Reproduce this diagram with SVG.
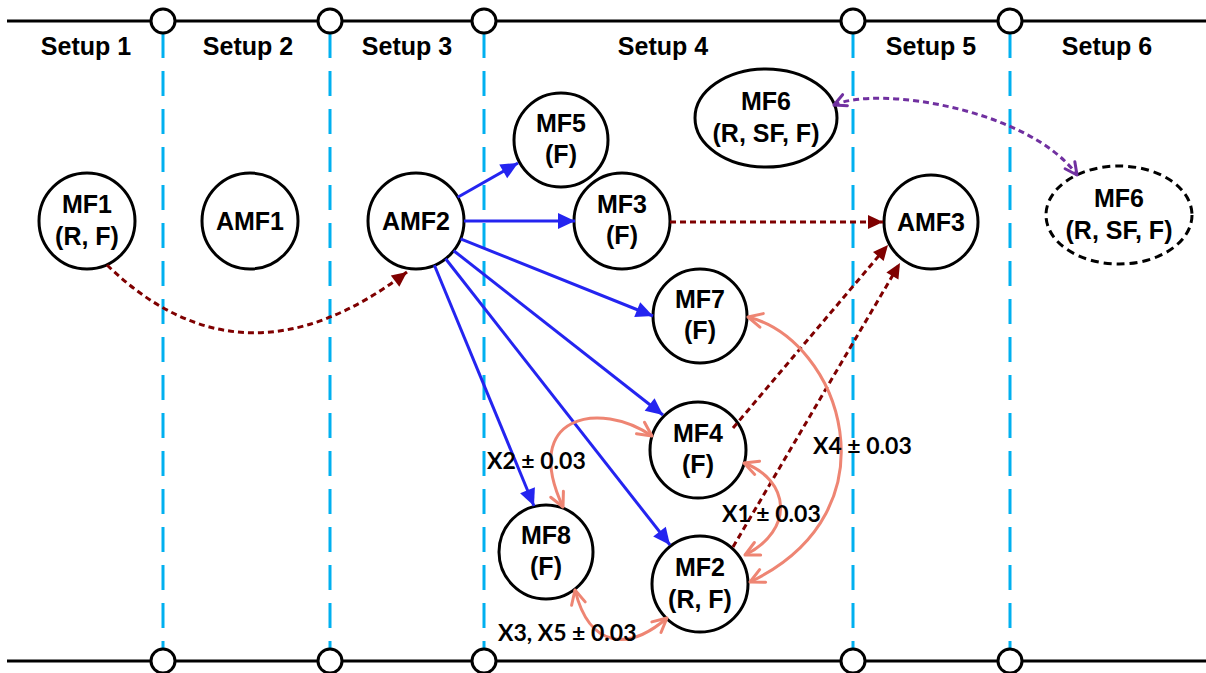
<svg xmlns="http://www.w3.org/2000/svg" width="1206" height="673" viewBox="0 0 1206 673">
<style>
.hdr{font-family:"Liberation Sans",Arial,sans-serif;font-weight:bold;font-size:25px;fill:#000;text-anchor:middle}
.nt{font-family:"Liberation Sans",Arial,sans-serif;font-weight:bold;font-size:25px;fill:#000;text-anchor:middle}
.lbl{font-family:Lato,"Liberation Sans",sans-serif;font-weight:bold;font-size:23px;fill:#000}
.node{fill:#fff;stroke:#000;stroke-width:3}
.sep{stroke:#00B0F0;stroke-width:3;stroke-dasharray:25 13}
.rail{stroke:#000;stroke-width:3}
.knot{fill:#fff;stroke:#000;stroke-width:3}
.blue{stroke:#2424F0;stroke-width:3;fill:none;marker-end:url(#mb)}
.red{stroke:#7F0000;stroke-width:3;fill:none;stroke-dasharray:6 4;marker-end:url(#mr)}
.sal{stroke:#EE8573;stroke-width:3;fill:none;marker-start:url(#ms);marker-end:url(#ms)}
.pur{stroke:#7030A0;stroke-width:3;fill:none;stroke-dasharray:6 4;marker-start:url(#mp);marker-end:url(#mp)}
</style>
<defs>
<marker id="mb" markerUnits="userSpaceOnUse" markerWidth="20" markerHeight="20" refX="17" refY="8" orient="auto" overflow="visible"><path d="M0,0 L17,8 L0,16 z" fill="#2424F0"/></marker>
<marker id="mr" markerUnits="userSpaceOnUse" markerWidth="20" markerHeight="20" refX="15" refY="7" orient="auto" overflow="visible"><path d="M0,0 L15,7 L0,14 z" fill="#7F0000"/></marker>
<marker id="ms" markerUnits="userSpaceOnUse" markerWidth="20" markerHeight="20" refX="15" refY="8" orient="auto-start-reverse" overflow="visible"><path d="M1,1 L15,8 L1,15" fill="none" stroke="#EE8573" stroke-width="3" stroke-linecap="round" stroke-linejoin="round"/></marker>
<marker id="mp" markerUnits="userSpaceOnUse" markerWidth="20" markerHeight="20" refX="13" refY="7" orient="auto-start-reverse" overflow="visible"><path d="M1,1 L13,7 L1,13" fill="none" stroke="#7030A0" stroke-width="3" stroke-linecap="round" stroke-linejoin="round"/></marker>
</defs>
<rect width="1206" height="673" fill="#fff"/>
<g id="frame">
<line class="sep" x1="163" y1="33" x2="163" y2="649"/>
<line class="sep" x1="330" y1="33" x2="330" y2="649"/>
<line class="sep" x1="484" y1="33" x2="484" y2="649"/>
<line class="sep" x1="853" y1="33" x2="853" y2="649"/>
<line class="sep" x1="1010" y1="33" x2="1010" y2="649"/>
<line class="rail" x1="7" y1="21" x2="1206" y2="21"/>
<line class="rail" x1="7" y1="661" x2="1206" y2="661"/>
<circle class="knot" cx="163" cy="21" r="12"/>
<circle class="knot" cx="330" cy="21" r="12"/>
<circle class="knot" cx="484" cy="21" r="12"/>
<circle class="knot" cx="853" cy="21" r="12"/>
<circle class="knot" cx="1010" cy="21" r="12"/>
<circle class="knot" cx="163" cy="661" r="12"/>
<circle class="knot" cx="330" cy="661" r="12"/>
<circle class="knot" cx="484" cy="661" r="12"/>
<circle class="knot" cx="853" cy="661" r="12"/>
<circle class="knot" cx="1010" cy="661" r="12"/>
<text class="hdr" x="86" y="55">Setup 1</text>
<text class="hdr" x="248" y="55">Setup 2</text>
<text class="hdr" x="407" y="55">Setup 3</text>
<text class="hdr" x="663" y="55">Setup 4</text>
<text class="hdr" x="931" y="55">Setup 5</text>
<text class="hdr" x="1107" y="55">Setup 6</text>
</g>
<g id="MF1"><circle class="node" cx="87" cy="221" r="48"/><text class="nt" x="87" y="213">MF1</text><text class="nt" x="87" y="245">(R, F)</text></g>
<g id="AMF1"><circle class="node" cx="250" cy="221" r="48"/><text class="nt" x="250" y="230">AMF1</text></g>
<g id="AMF2"><circle class="node" cx="416" cy="221" r="48"/><text class="nt" x="416" y="230">AMF2</text></g>
<g id="MF5"><circle class="node" cx="561" cy="140" r="47"/><text class="nt" x="561" y="132">MF5</text><text class="nt" x="561" y="163">(F)</text></g>
<g id="MF3"><circle class="node" cx="622" cy="221" r="48"/><text class="nt" x="622" y="213">MF3</text><text class="nt" x="622" y="244">(F)</text></g>
<g id="MF6a"><ellipse class="node" cx="766" cy="118" rx="71" ry="49"/><text class="nt" x="766" y="110">MF6</text><text class="nt" x="766" y="142">(R, SF, F)</text></g>
<g id="AMF3"><circle class="node" cx="931" cy="222" r="47"/><text class="nt" x="931" y="231">AMF3</text></g>
<g id="MF6b"><ellipse class="node" cx="1119" cy="215" rx="73" ry="49" stroke-dasharray="8 5"/><text class="nt" x="1119" y="207">MF6</text><text class="nt" x="1119" y="239">(R, SF, F)</text></g>
<g id="MF7"><circle class="node" cx="700" cy="316" r="47"/><text class="nt" x="700" y="308">MF7</text><text class="nt" x="700" y="339">(F)</text></g>
<g id="MF4"><circle class="node" cx="698" cy="450" r="48"/><text class="nt" x="698" y="442">MF4</text><text class="nt" x="698" y="473">(F)</text></g>
<g id="MF8"><circle class="node" cx="546" cy="552" r="47"/><text class="nt" x="546" y="544">MF8</text><text class="nt" x="546" y="575">(F)</text></g>
<g id="MF2"><circle class="node" cx="700" cy="584" r="48"/><text class="nt" x="700" y="576">MF2</text><text class="nt" x="700" y="608">(R, F)</text></g>
<g id="connectors">
<line class="blue" x1="457.7" y1="197.3" x2="518" y2="163"/>
<line class="blue" x1="464" y1="221" x2="575" y2="221"/>
<line class="blue" x1="460.6" y1="238.9" x2="653" y2="316"/>
<line class="blue" x1="453.7" y1="250.7" x2="663" y2="415"/>
<line class="blue" x1="445.6" y1="258.8" x2="670" y2="545"/>
<line class="blue" x1="434.4" y1="265.3" x2="534" y2="506"/>
<path class="red" d="M107,265 Q243,397 407,272"/>
<line class="red" x1="670" y1="222" x2="883" y2="222"/>
<line class="red" x1="733" y1="428" x2="888" y2="245"/>
<line class="red" x1="733" y1="547" x2="900" y2="263"/>
<path class="pur" d="M834,105 C880,85 1030,110 1077,175"/>
<path class="sal" d="M652,436 C600,400 520,415 563,507"/>
<path class="sal" d="M744,463 C790,480 795,530 745,555"/>
<path class="sal" d="M748,317 C840,340 900,510 750,582"/>
<path class="sal" d="M575,590 C590,650 630,650 667,618"/>
<text class="lbl" x="487" y="469">X2 ± 0.03</text>
<text class="lbl" x="722" y="522">X1 ± 0.03</text>
<text class="lbl" x="813" y="454">X4 ± 0.03</text>
<text class="lbl" x="498" y="641">X3, X5 ± 0.03</text>
</g>
</svg>
